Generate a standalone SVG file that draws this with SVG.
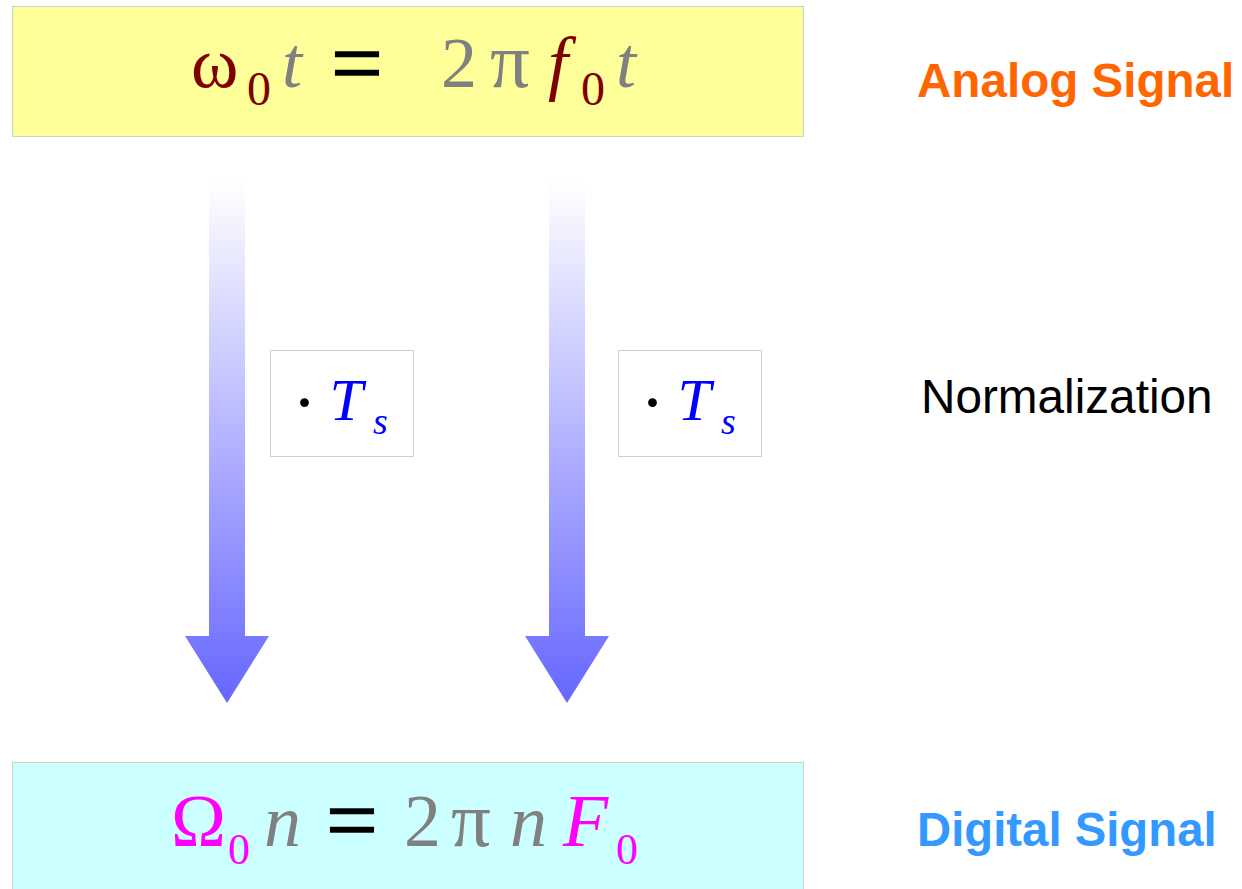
<svg xmlns="http://www.w3.org/2000/svg" width="1242" height="889" viewBox="0 0 1242 889">
<defs>
<linearGradient id="flow" x1="0" y1="0" x2="0" y2="1">
<stop offset="0" stop-color="#ffffff"/>
<stop offset="1" stop-color="#6666ff"/>
</linearGradient>
<style>
.box{stroke:#d0d0d0;stroke-width:1}
.m{font-family:"Liberation Serif","Times New Roman",serif}
.i{font-style:italic}
.g{fill:#808080}
.r{fill:#800000}
.p{fill:#ff00ff}
.k{fill:#000000}
.eq{fill:#000000;stroke:#000000;stroke-width:1.3}
.b{fill:#0000ff}
.lbl{font-family:"Liberation Sans",Arial,sans-serif}
</style>
</defs>
<rect width="1242" height="889" fill="#ffffff"/>

<g id="connectors">
<path d="M209 182 H245 V636 H269 L227 703 L185 636 H209 Z" fill="url(#flow)"/>
<path d="M549 182 H585 V636 H609 L567 703 L525 636 H549 Z" fill="url(#flow)"/>
</g>

<g id="analog">
<rect class="box" x="12.5" y="6.5" width="791" height="130" fill="#ffff99"/>
<text class="m" font-size="72">
<tspan class="r" x="191" y="87">ω</tspan>
<tspan class="r" x="247" y="105" font-size="48">0</tspan>
<tspan class="g i" x="282" y="87">t</tspan>
<tspan class="eq" x="331" y="94" font-size="92">=</tspan>
<tspan class="g" x="441" y="87">2</tspan>
<tspan class="g" x="490" y="87" font-size="79">π</tspan>
<tspan class="r i" x="548" y="87">f</tspan>
<tspan class="r" x="581" y="105" font-size="48">0</tspan>
<tspan class="g i" x="616" y="87">t</tspan>
</text>
</g>

<g id="digital">
<rect class="box" x="12.5" y="762.5" width="791" height="140" fill="#ccffff"/>
<text class="m" font-size="74">
<tspan class="p" x="171" y="846">Ω</tspan>
<tspan class="p" x="228" y="864" font-size="44">0</tspan>
<tspan class="g i" x="264" y="846">n</tspan>
<tspan class="eq" x="326" y="851" font-size="92">=</tspan>
<tspan class="g" x="404" y="846">2</tspan>
<tspan class="g" x="451" y="846" font-size="79">π</tspan>
<tspan class="g i" x="510" y="846">n</tspan>
<tspan class="p i" x="563" y="846">F</tspan>
<tspan class="p" x="616" y="864" font-size="44">0</tspan>
</text>
</g>

<g id="ts-left">
<rect class="box" x="270.5" y="350.5" width="143" height="106" fill="#ffffff"/>
<text class="m" font-size="60">
<tspan class="k" x="292" y="427" font-size="75">·</tspan>
<tspan class="b i" x="329.5" y="420">T</tspan>
<tspan class="b i" x="373" y="434" font-size="38">s</tspan>
</text>
</g>

<g id="ts-right">
<rect class="box" x="618.5" y="350.5" width="143" height="106" fill="#ffffff"/>
<text class="m" font-size="60">
<tspan class="k" x="640" y="427" font-size="75">·</tspan>
<tspan class="b i" x="677.5" y="420">T</tspan>
<tspan class="b i" x="721" y="434" font-size="38">s</tspan>
</text>
</g>

<g id="label-analog">
<text class="lbl" x="917" y="97" font-size="47.6" font-weight="bold" fill="#ff6600">Analog Signal</text>
</g>
<g id="label-normalization">
<text class="lbl" x="921" y="413" font-size="47.7" fill="#000000">Normalization</text>
</g>
<g id="label-digital">
<text class="lbl" x="917" y="846" font-size="47.3" font-weight="bold" fill="#3399ff">Digital Signal</text>
</g>
</svg>
